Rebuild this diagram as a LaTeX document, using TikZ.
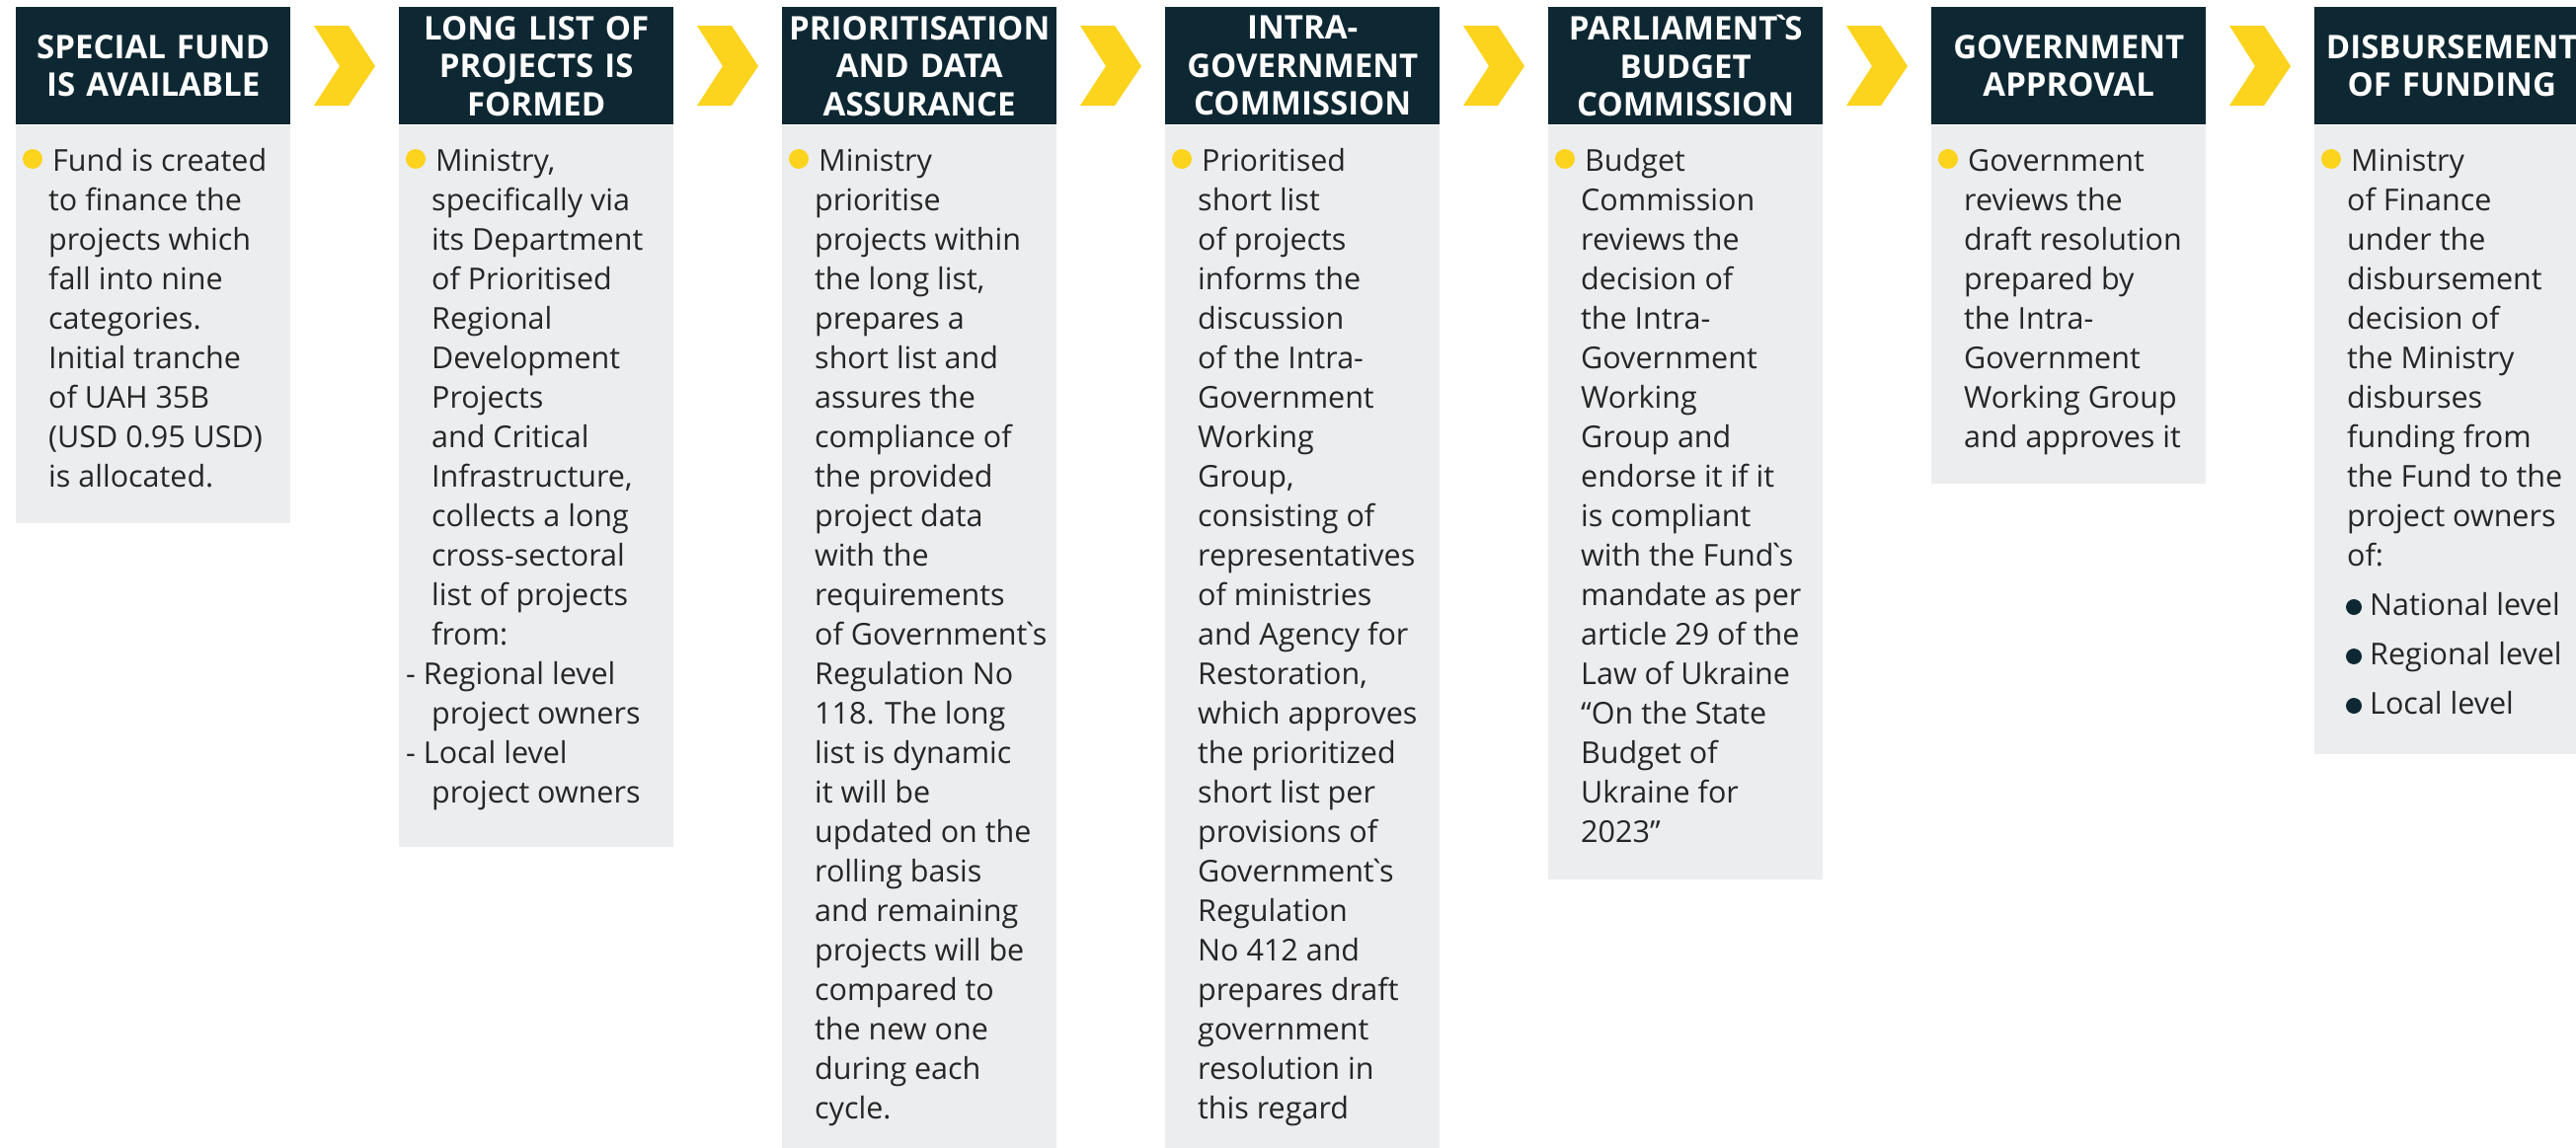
\documentclass[tikz,border=0pt]{standalone}
\usepackage{fontspec}
\setmainfont{Open Sans}[Ligatures=TeXOff]
\usepackage{tikz}
\usetikzlibrary{positioning}

\definecolor{headnavy}{RGB}{14,40,51}
\definecolor{bodygrey}{RGB}{236,237,239}
\definecolor{chevyellow}{RGB}{252,211,29}
\definecolor{inkgrey}{RGB}{38,38,38}

% tight grave used as apostrophe
\newcommand{\grv}{\kern-0.2em`\kern-0.2em}

\begin{document}
\begin{tikzpicture}[x=1pt, y=-1pt,
  headbox/.style={fill=headnavy, text=white, minimum width=278pt, minimum height=119pt, text width=278pt, align=center, inner sep=0pt, anchor=north west, font=\fontsize{33}{38.5}\selectfont\bfseries},
  bodybox/.style={fill=bodygrey, minimum width=278pt, inner sep=0pt, anchor=north},
  bodytext/.style={text=inkgrey, align=left, inner sep=0pt, anchor=north west, font=\fontsize{30.5}{40}\selectfont},
  leveltext/.style={text=inkgrey, inner sep=0pt, anchor=base west, font=\fontsize{30.5}{40}\selectfont}]

\clip (0,0) rectangle (2609,1162); % page frame

% step headers (pitch 388)
\node[headbox] (h1) at (16,7) {SPECIAL FUND\\IS AVAILABLE};
\node[headbox] (h2) at (404,7) {LONG LIST OF\\PROJECTS IS\\FORMED};
\node[headbox] (h3) at (792,7) {PRIORITISATION\\AND DATA\\ASSURANCE};
\node[headbox] (h4) at (1180,7) {INTRA-\\GOVERNMENT\\COMMISSION};
\node[headbox] (h5) at (1568,7) {PARLIAMENT\grv S\\BUDGET\\COMMISSION};
\node[headbox] (h6) at (1956,7) {GOVERNMENT\\APPROVAL};
\node[headbox] (h7) at (2344,7) {DISBURSEMENT\\OF FUNDING};

% grey panels under the headers
\node[bodybox, minimum height=403pt] (b1) at (h1.south) {};
\node[bodybox, minimum height=731pt] (b2) at (h2.south) {};
\node[bodybox, minimum height=1040pt] (b3) at (h3.south) {};
\node[bodybox, minimum height=1040pt] (b4) at (h4.south) {};
\node[bodybox, minimum height=764pt] (b5) at (h5.south) {};
\node[bodybox, minimum height=363pt] (b6) at (h6.south) {};
\node[bodybox, minimum height=637pt] (b7) at (h7.south) {};

% chevrons between the steps
\foreach \i in {0,...,5}
  \fill[chevyellow, xshift={388pt*\i}] (318,26) -- (353,26) -- (380,67) -- (353,107) -- (318,107) -- (344,67) -- cycle;

% yellow bullets
\foreach \i in {0,...,6}
  \fill[chevyellow] (33+388*\i,161) circle (10pt);

% panel texts
\node[bodytext] (t1) at (49,145) {\strut\hspace*{4pt}Fund is created\\to finance the\\projects which\\fall into nine\\categories.\\Initial tranche\\of UAH 35B\\(USD 0.95 USD)\\is allocated.};
\node[bodytext] (t2) at (437,145) {\strut\hspace*{4pt}Ministry,\\specifically via\\its Department\\of Prioritised\\Regional\\Development\\Projects\\and Critical\\Infrastructure,\\collects a long\\cross-sectoral\\list of projects\\from:\\\hspace*{-26pt}- Regional level\\project owners\\\hspace*{-26pt}- Local level\\project owners};
\node[bodytext] (t3) at (825,145) {\strut\hspace*{4pt}Ministry\\prioritise\\projects within\\the long list,\\prepares a\\short list and\\assures the\\compliance of\\the provided\\project data\\with the\\requirements\\of Government\grv s\\Regulation No\\118. The long\\list is dynamic\\it will be\\updated on the\\rolling basis\\and remaining\\projects will be\\compared to\\the new one\\during each\\cycle.};
\node[bodytext] (t4) at (1213,145) {\strut\hspace*{4pt}Prioritised\\short list\\of projects\\informs the\\discussion\\of the Intra-\\Government\\Working\\Group,\\consisting of\\representatives\\of ministries\\and Agency for\\Restoration,\\which approves\\the prioritized\\short list per\\provisions of\\Government\grv s\\Regulation\\No 412 and\\prepares draft\\government\\resolution in\\this regard};
\node[bodytext] (t5) at (1601,145) {\strut\hspace*{4pt}Budget\\Commission\\reviews the\\decision of\\the Intra-\\Government\\Working\\Group and\\endorse it if it\\is compliant\\with the Fund\grv s\\mandate as per\\article 29 of the\\Law of Ukraine\\“On the State\\Budget of\\Ukraine for\\2023”};
\node[bodytext] (t6) at (1989,145) {\strut\hspace*{4pt}Government\\reviews the\\draft resolution\\prepared by\\the Intra-\\Government\\Working Group\\and approves it};
\node[bodytext] (t7) at (2377,145) {\strut\hspace*{4pt}Ministry\\of Finance\\under the\\disbursement\\decision of\\the Ministry\\disburses\\funding from\\the Fund to the\\project owners\\of:};

% owner levels, dark bullets
\foreach \lvl [count=\k from 0] in {National level, Regional level, Local level} {
  \fill[headnavy] (2384,615+50*\k) circle (8pt);
  \node[leveltext] (lvl\k) at (2400,623+50*\k) {\lvl};
}

\end{tikzpicture}
\end{document}
